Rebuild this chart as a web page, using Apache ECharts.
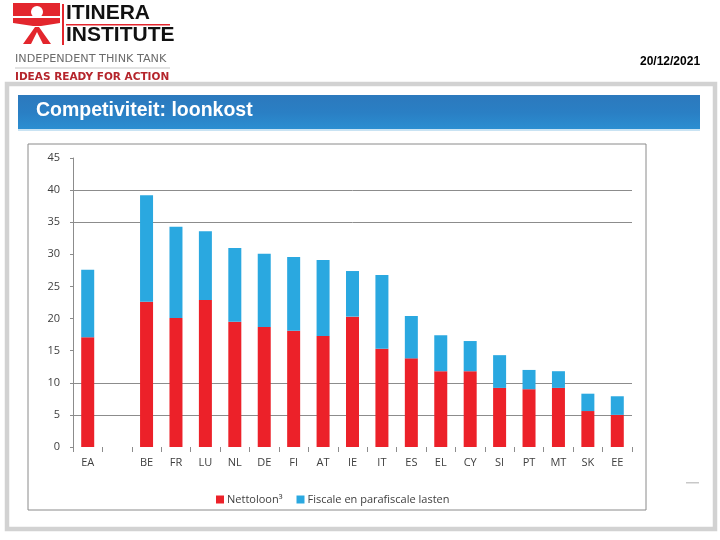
<!DOCTYPE html>
<html>
<head>
<meta charset="utf-8">
<script src="https://cdn.jsdelivr.net/npm/echarts@6/dist/echarts.min.js"></script>
<style>
html,body{margin:0;padding:0;background:#fff;}
#c{width:720px;height:540px;}
</style>
</head>
<body>
<div id="c"></div>
<script>
const categories = ['EA', '', 'BE', 'FR', 'LU', 'NL', 'DE', 'FI', 'AT', 'IE', 'IT', 'ES', 'EL', 'CY', 'SI', 'PT', 'MT', 'SK', 'EE'];
const nettoloon = [17.1, null, 22.6, 20.1, 22.9, 19.5, 18.7, 18.1, 17.3, 20.3, 15.3, 13.8, 11.8, 11.8, 9.2, 9.0, 9.2, 5.6, 5.0];
const fiscaleLasten = [10.5, null, 16.6, 14.2, 10.7, 11.5, 11.4, 11.5, 11.8, 7.1, 11.5, 6.6, 5.6, 4.7, 5.1, 3.0, 2.6, 2.7, 2.9];
const seriesNames = ['Nettoloon\u00B3', 'Fiscale en parafiscale lasten'];
const yTicks = { min: 0, max: 45, interval: 5 };
const gridValues = [5, 10, 35, 40];

const chart = echarts.init(document.getElementById('c'), null, { renderer: 'canvas' });

const axisFont = '"Open Sans", "Liberation Sans", sans-serif';
const splitColors = [];
for (let v = yTicks.min; v <= yTicks.max; v += yTicks.interval) {
  splitColors.push(gridValues.indexOf(v) >= 0 ? '#8c8c8c' : 'rgba(0,0,0,0)');
}

const red = '#e3262d';
const graphics = [
  // outer gray frame
  { type: 'rect', shape: { x: 7, y: 84, width: 708, height: 445 }, style: { fill: 'none', stroke: '#d2d2d2', lineWidth: 4.5 }, z: 1 },
  // title bar
  { type: 'rect', shape: { x: 18, y: 95, width: 682, height: 35 },
    style: { fill: new echarts.graphic.LinearGradient(0, 0, 0, 1, [
      { offset: 0, color: '#2c79bd' }, { offset: 0.5, color: '#2a7fc4' }, { offset: 1, color: '#2b8fd2' }]) }, z: 1 },
  { type: 'rect', shape: { x: 18, y: 129, width: 682, height: 2 }, style: { fill: '#c9e3f3' }, z: 1 },
  { type: 'text', left: 36, top: 101, style: { text: 'Competiviteit: loonkost', fill: '#ffffff', font: 'bold 19.5px "Liberation Sans", Arial, sans-serif' }, z: 2 },
  // chart frame
  { type: 'rect', shape: { x: 28, y: 144, width: 618, height: 366 }, style: { fill: 'none', stroke: '#8a8a8a', lineWidth: 1 }, z: 1 },
  // date
  { type: 'text', left: 640, top: 56, style: { text: '20/12/2021', fill: '#000', font: 'bold 12px "Liberation Sans", Arial, sans-serif' }, z: 2 },
  // small right mark
  { type: 'rect', shape: { x: 686, y: 482, width: 13, height: 1.5 }, style: { fill: '#c8c8c8' }, z: 1 },
  // logo mark
  { type: 'rect', shape: { x: 13, y: 3, width: 47, height: 13 }, style: { fill: red }, z: 2 },
  { type: 'circle', shape: { cx: 37, cy: 12, r: 6 }, style: { fill: '#ffffff' }, z: 3 },
  { type: 'polygon', shape: { points: [[13, 18], [60, 18], [60, 23], [41, 26], [33, 26], [13, 23]] }, style: { fill: red }, z: 2 },
  { type: 'polygon', shape: { points: [[35, 27], [39, 27], [51, 44], [43, 44], [37, 32], [31, 44], [23, 44]] }, style: { fill: red }, z: 2 },
  { type: 'rect', shape: { x: 62, y: 4, width: 2, height: 41 }, style: { fill: red }, z: 2 },
  { type: 'text', left: 66, top: 3, style: { text: 'ITINERA', fill: '#111', font: 'bold 21px "Liberation Sans Narrow", "Liberation Sans", Arial, sans-serif' }, z: 2 },
  { type: 'rect', shape: { x: 66, y: 24, width: 104, height: 1.5 }, style: { fill: red }, z: 2 },
  { type: 'text', left: 66, top: 25, style: { text: 'INSTITUTE', fill: '#111', font: 'bold 21px "Liberation Sans Narrow", "Liberation Sans", Arial, sans-serif' }, z: 2 },
  { type: 'text', x: 15, y: 54.5, scaleX: 1.12, style: { text: 'INDEPENDENT THINK TANK', fill: '#6b6b6b', font: '10px "DejaVu Sans", sans-serif' }, z: 2 },
  { type: 'rect', shape: { x: 15, y: 67.5, width: 155, height: 1 }, style: { fill: '#c8c8c8' }, z: 2 },
  { type: 'text', x: 15, y: 72, style: { text: 'IDEAS READY FOR ACTION', fill: '#b5252c', font: 'bold 10.5px "DejaVu Sans", sans-serif' }, z: 2 }
];

chart.setOption({
  animation: false,
  backgroundColor: '#ffffff',
  graphic: graphics,
  grid: { left: 73, right: 88, top: 158, bottom: 93, containLabel: false },
  legend: {
    left: 211, top: 489, itemWidth: 8, itemHeight: 8, itemGap: 14, icon: 'rect',
    textStyle: { color: '#404040', fontSize: 11, fontFamily: axisFont, padding: [0, 0, 0, -2] },
    data: seriesNames
  },
  xAxis: {
    type: 'category', data: categories,
    axisLine: { show: true, lineStyle: { color: 'rgba(0,0,0,0)' } },
    axisTick: { show: true, length: 5, lineStyle: { color: '#8c8c8c' } },
    axisLabel: { color: '#404040', fontSize: 11, fontFamily: axisFont, margin: 10, interval: 0 }
  },
  yAxis: {
    type: 'value', min: yTicks.min, max: yTicks.max, interval: yTicks.interval,
    axisLine: { show: true, lineStyle: { color: '#8c8c8c' } },
    axisTick: { show: true, length: 3, lineStyle: { color: '#8c8c8c' } },
    axisLabel: { color: '#404040', fontSize: 11, fontFamily: axisFont, margin: 13 },
    splitLine: { show: true, lineStyle: { color: splitColors, width: 1 } }
  },
  series: [
    { name: seriesNames[0], type: 'bar', stack: 'total', data: nettoloon, barWidth: 13, itemStyle: { color: '#ec2129' } },
    { name: seriesNames[1], type: 'bar', stack: 'total', data: fiscaleLasten, barWidth: 13, itemStyle: { color: '#2aa8e0' } }
  ]
});
</script>
</body>
</html>
